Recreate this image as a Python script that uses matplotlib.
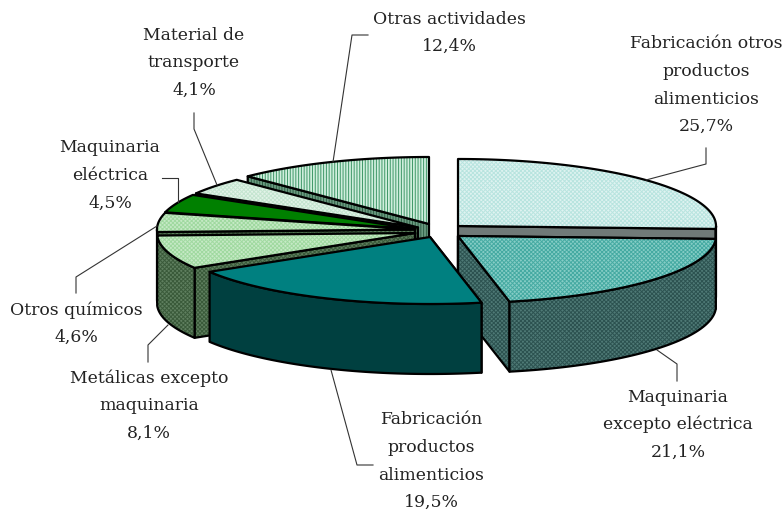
import numpy as np
import matplotlib
matplotlib.use("Agg")
import matplotlib.pyplot as plt
from matplotlib.patches import Polygon

categories = ["Fabricación otros\nproductos\nalimenticios", "Maquinaria\nexcepto eléctrica",
              "Fabricación\nproductos\nalimenticios", "Metálicas excepto\nmaquinaria",
              "Otros químicos", "Maquinaria\neléctrica", "Material de\ntransporte", "Otras actividades"]
values = [25.7, 21.1, 19.5, 8.1, 4.6, 4.5, 4.1, 12.4]

# layout: apex of each exploded slice, in pixels
apex_x = [458, 458, 430, 415, 415, 415, 418, 429]
apex_y = [226, 236, 237, 233, 229.5, 229, 227.5, 224]
RX, RY, DEPTH = 258, 67, 70

# style: (top base, top hatch, side base, side hatch, hatch)
styles = [
    ("#dff3f1", "#b8e4df", "#707a78", "#707a78", "xxxxxxxx"),
    ("#86cdc6", "#45aaa2", "#4f7a76", "#2c5250", "xxxxxxxx"),
    ("#008080", "#008080", "#004040", "#004040", None),
    ("#c6eac6", "#a0d9a0", "#5f7f5f", "#3a5a3a", "xxxxxxxx"),
    ("#c6eac6", "#a0d9a0", "#5f7f5f", "#3a5a3a", "xxxxxxxx"),
    ("#008000", "#008000", "#004000", "#004000", None),
    ("#e2f3e8", "#c4e5d0", "#5f7f5f", "#3a5a3a", "xxxxxxxx"),
    ("#cfeedd", "#3f9868", "#6a9a80", "#2f5f45", "||||||"),
]

label_x = [706, 678, 431, 149, 76, 110, 194, 449]
label_y = [44, 397, 420, 378, 310, 148, 35, 19]
leaders = [
    [(646, 180), (706, 164), (706, 148)],
    [(657, 350), (677, 364), (677, 381)],
    [(331, 370), (357, 465), (373, 465)],
    [(168, 325), (148, 345), (148, 362)],
    [(157, 226), (76, 277), (76, 293)],
    [(178, 202), (178, 178), (162, 178)],
    [(217, 185), (194, 129), (194, 113)],
    [(333, 162), (352, 35), (368, 35)],
]

plt.rcParams["hatch.linewidth"] = 0.7
fig = plt.figure(figsize=(7.82, 5.12), dpi=100)
ax = fig.add_axes([0, 0, 1, 1])
ax.set_xlim(0, 782)
ax.set_ylim(512, 0)
ax.axis("off")

bounds = np.concatenate([[0], np.cumsum(values)]) / sum(values) * 2 * np.pi


def rim(i, t):
    return np.column_stack([apex_x[i] + RX * np.sin(t), apex_y[i] - RY * np.cos(t)])


def shape(pts, base, hcol, hatch, z):
    if hatch and hcol != base:
        ax.add_patch(Polygon(pts, closed=True, facecolor=base, edgecolor=hcol, hatch=hatch, lw=0, zorder=z))
    else:
        ax.add_patch(Polygon(pts, closed=True, facecolor=base, edgecolor="none", zorder=z))
    ax.add_patch(Polygon(pts, closed=True, fill=False, edgecolor="black", lw=1.6, joinstyle="round", zorder=z))


def draw_slice(i, z):
    t0, t1 = bounds[i], bounds[i + 1]
    top, thatch, side, shatch, h = styles[i]
    apex = np.array([[apex_x[i], apex_y[i]]], float)
    drop = np.array([0, DEPTH])
    # radial faces
    for t, visible in ((t0, t0 > np.pi / 2), (t1, np.pi / 2 < t1 <= np.pi)):
        if visible:
            p = rim(i, np.array([t]))
            shape(np.vstack([apex, p, p + drop, apex + drop]), side, shatch, h, z)
    # outer wall
    a, b = max(t0, np.pi / 2), min(t1, 3 * np.pi / 2)
    if b > a:
        arc = rim(i, np.linspace(a, b, 80))
        shape(np.vstack([arc, arc[::-1] + drop]), side, shatch, h, z + 0.1)
    # top
    arc = rim(i, np.linspace(t0, t1, 120))
    shape(np.vstack([apex, arc]), top, thatch, h, z + 0.2)


for z, i in enumerate([7, 6, 5, 4, 3, 0, 1, 2]):
    draw_slice(i, z + 1)

for pts in leaders:
    xs, ys = zip(*pts)
    ax.plot(xs, ys, color="#333333", lw=0.8, zorder=20)

for i, (name, v) in enumerate(zip(categories, values)):
    lines = name.split("\n") + [f"{v:.1f}%".replace(".", ",")]
    for k, line in enumerate(lines):
        ax.text(label_x[i], label_y[i] + k * 27.6, line, ha="center", va="center",
                family="DejaVu Serif", fontsize=12.4, color="#222222", zorder=21)

fig.savefig("out.png", dpi=100, facecolor="white")
